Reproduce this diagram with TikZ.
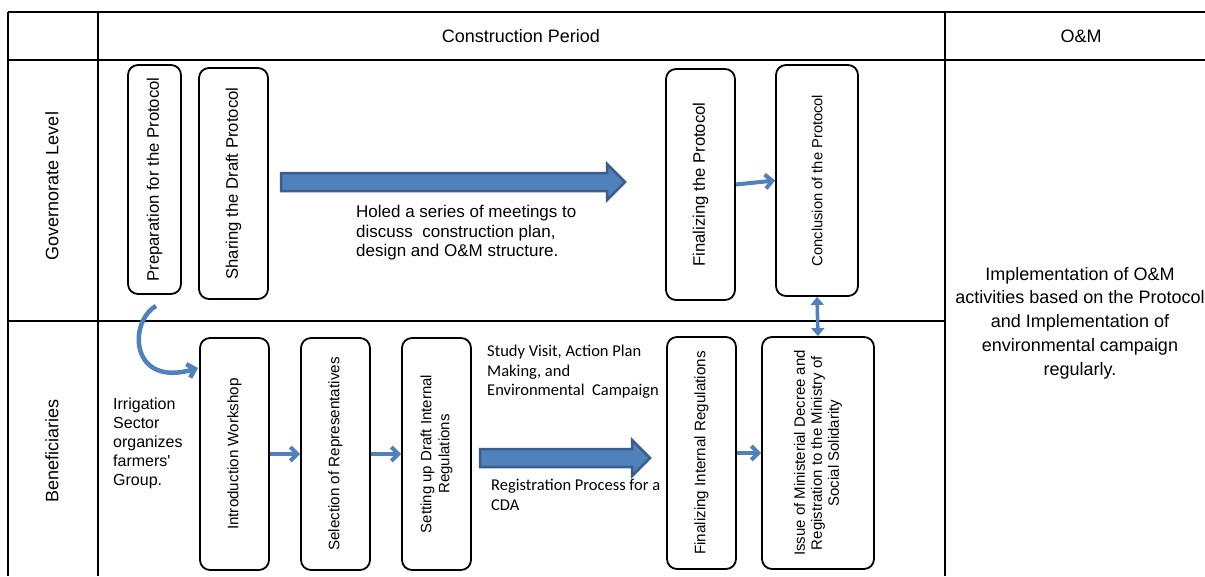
\documentclass[tikz,border=0pt]{standalone}
\usepackage{fontspec}
\setmainfont{Liberation Sans}
\newfontfamily\calib{Carlito}
\usetikzlibrary{arrows.meta}
\definecolor{ablue}{HTML}{4F81BD}
\definecolor{dblue}{HTML}{3A5F8C}
\begin{document}
\begin{tikzpicture}[x=1pt,y=-1pt,
  tline/.style={line width=2pt, black},
  box/.style={draw, line width=1.8pt, rounded corners=10pt, rotate=90, inner sep=2pt, align=center},
  link/.style={ablue, line width=4pt, -{Straight Barb[length=7pt,width=14pt]}},
  dlink/.style={ablue, line width=3.5pt, {Triangle[length=8pt,width=13pt]}-{Triangle[length=8pt,width=13pt]}},
  bigarr/.style={draw=dblue, fill=ablue, line width=2.5pt, line join=miter},
  lbl/.style={inner sep=0pt}
]
\useasboundingbox (0,0) rectangle (1205,576);
\fill[white] (0,0) rectangle (1205,576);

% table
\draw[tline] (8,12) -- (1205,12);
\draw[tline] (8,60) -- (1205,60);
\draw[tline] (8,321) -- (945,321);
\draw[tline] (8,12) -- (8,576);
\draw[tline] (98,12) -- (98,576);
\draw[tline] (945,12) -- (945,576);

% headers
\node[lbl, font=\fontsize{18}{22}\selectfont] (hcp) at (521,36) {Construction Period};
\node[lbl, font=\fontsize{18}{22}\selectfont] (hom) at (1081,36) {O\&M};
\node[lbl, rotate=90, font=\fontsize{18}{22}\selectfont] (hgl) at (52,186) {Governorate Level};
\node[lbl, rotate=90, font=\fontsize{18}{22}\selectfont] (hbe) at (52,451) {Beneficiaries};

% governorate boxes
\node[box, minimum width=229pt, minimum height=53pt, font=\fontsize{16.7}{19}\selectfont] (prep) at (154.5,179.5) {Preparation for the Protocol};
\node[box, minimum width=231pt, minimum height=69pt, font=\fontsize{16.7}{19}\selectfont] (share) at (233.5,183.5) {Sharing the Draft Protocol};
\node[box, minimum width=231pt, minimum height=69pt, font=\fontsize{16.7}{19}\selectfont] (finp) at (700.5,184.5) {Finalizing the Protocol};
\node[box, minimum width=231pt, minimum height=82pt, font=\fontsize{14.7}{17}\selectfont] (concl) at (817,180.5) {Conclusion of the Protocol};

% beneficiary boxes
\node[box, minimum width=232pt, minimum height=69pt, font=\fontsize{15.2}{18}\selectfont] (intro) at (234.5,454) {Introduction Workshop};
\node[box, minimum width=232pt, minimum height=69pt, font=\fontsize{15.2}{18}\selectfont] (sel) at (335.5,454) {Selection of Representatives};
\node[box, minimum width=232pt, minimum height=69pt, font=\fontsize{15}{18}\selectfont] (setup) at (436.5,454) {Setting up Draft Internal\\Regulations};
\node[box, minimum width=232pt, minimum height=69pt, font=\fontsize{15.2}{18}\selectfont] (fini) at (701.5,453) {Finalizing Internal Regulations};
\node[box, minimum width=232pt, minimum height=112pt, font=\fontsize{15}{17}\selectfont] (issue) at (818,453) {Issue of Ministerial Decree and\\Registration to the Ministry of\\Social Solidarity};

% big arrows
\draw[bigarr] (281,173) -- (607,173) -- (607,164) -- (625,182) -- (607,200) -- (607,191) -- (281,191) -- cycle;
\draw[bigarr] (480,449) -- (632,449) -- (632,440) -- (650,458) -- (632,476) -- (632,467) -- (480,467) -- cycle;

% free texts
\node[lbl, anchor=west, align=left, font=\fontsize{17}{19.5}\selectfont] (holed) at (356,233) {Holed a series of meetings to\\discuss~ construction plan,\\design and O\&M structure.};
\node[lbl, anchor=west, align=left, font=\fontsize{16}{19}\selectfont] (irr) at (113,443) {Irrigation\\Sector\\organizes\\farmers\textquotesingle\\Group.};
\node[lbl, anchor=west, align=left, font=\calib\fontsize{16.5}{19.5}\selectfont] (study) at (487,372) {Study Visit, Action Plan\\Making, and\\Environmental~ Campaign};
\node[lbl, anchor=west, align=left, font=\calib\fontsize{16.5}{20}\selectfont] (reg) at (491,495) {Registration Process for a\\CDA};
\node[lbl, align=center, font=\fontsize{18}{23.8}\selectfont] (impl) at (1080,323) {Implementation of O\&M\\activities based on the Protocol\\and Implementation of\\environmental campaign\\regularly.};

% connectors
\draw[link] (finp.south) -- (concl.north);
\draw[dlink] (concl.west) -- (issue.east);
\draw[link] (intro.south) -- (sel.north);
\draw[link] (sel.south) -- (setup.north);
\draw[link] (fini.south) -- (issue.north);
\coordinate (cs) at (156,306);
\coordinate (ce) at (198,368);
\draw[link, line width=4.5pt] (cs) .. controls (128,322) and (130,388) .. (ce);
\end{tikzpicture}
\end{document}
